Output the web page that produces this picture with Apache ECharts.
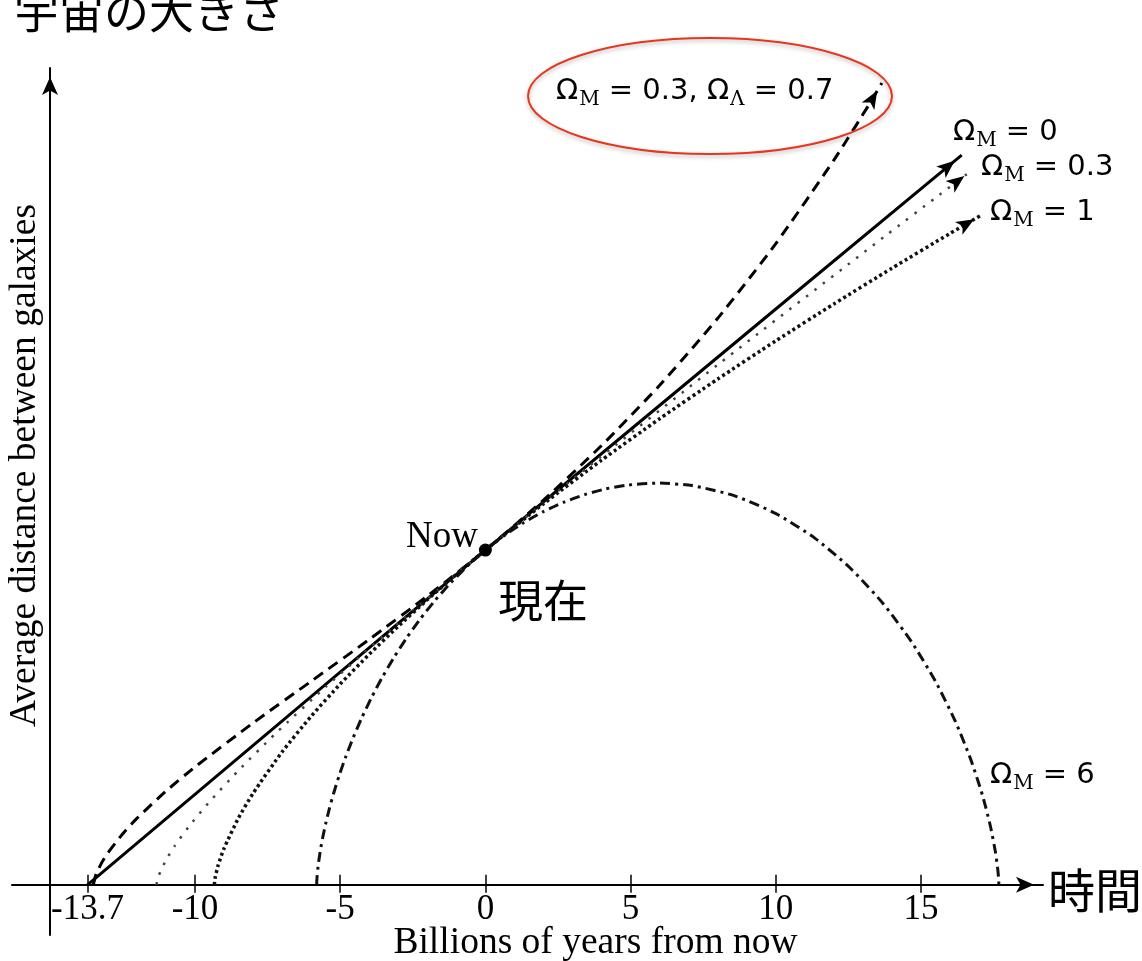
<!DOCTYPE html>
<html><head><meta charset="utf-8">
<script src="https://cdn.jsdelivr.net/npm/echarts@6/dist/echarts.min.js"></script>
<style>html,body{margin:0;padding:0;background:#fff}#c{width:1142px;height:961px}</style>
</head><body><div id="c"></div>
<script>
// tick labels on the time axis (billions of years from now)
const xTickValues = [-13.7, -10, -5, 0, 5, 10, 15];

// [time from now (Gyr), relative distance between galaxies]
const lambdaCDM = [[-13.5,0],[-13.4,0.0325],[-13.2,0.0677],[-13,0.0951],[-12.5,0.1511],[-12,0.1983],[-11,0.2797],[-10,0.3519],[-8,0.4833],[-6,0.6079],[-4,0.7329],[-2,0.8624],[0,1],[2,1.1491],[4,1.3122],[6,1.4922],[8,1.6922],[10,1.9153],[12,2.165],[13.2,2.3293],[13.65,2.395]];
const omega0 = [[-13.7,0],[-10,0.27],[-5,0.635],[0,1],[5,1.36],[10,1.72],[16.4,2.18]];
const omega03 = [[-11.323,0],[-11.307,0.0097],[-11.247,0.0274],[-11.007,0.0723],[-10.695,0.1164],[-10.213,0.1737],[-9.514,0.2466],[-8.541,0.338],[-7.228,0.4516],[-5.489,0.5919],[-3.23,0.7646],[0,1],[3.359,1.2362],[8.011,1.5541],[13.841,1.9431],[15.512,2.0531],[16.74,2.1336]];
const omega1 = [[-9.333,0],[-9.3,0.0234],[-9.2,0.0589],[-9,0.1084],[-8.5,0.1998],[-8,0.2733],[-7,0.3969],[-6,0.5034],[-5,0.5996],[-4,0.6886],[-3,0.7722],[-2,0.8515],[-1,0.9272],[0,1],[2,1.1382],[4,1.2684],[6,1.3923],[8,1.5109],[10,1.625],[12,1.7352],[14,1.842],[16,1.9458],[17.1,2.0017]];
const omega6 = [[-5.81,0],[-5.809,0.003],[-5.805,0.012],[-5.793,0.0268],[-5.77,0.0474],[-5.733,0.0735],[-5.678,0.1048],[-5.601,0.1411],[-5.501,0.182],[-5.374,0.227],[-5.217,0.2758],[-5.029,0.3278],[-4.808,0.3826],[-4.552,0.4395],[-4.26,0.498],[-3.931,0.5576],[-3.565,0.6175],[-3.162,0.6773],[-2.721,0.7363],[-2.245,0.794],[-1.732,0.8497],[-1.186,0.9029],[-0.608,0.9531],[0,1],[0.637,1.0424],[1.299,1.0807],[1.983,1.1141],[2.686,1.1424],[3.406,1.1653],[4.138,1.1826],[4.878,1.194],[5.935,1.2],[7.117,1.1925],[8.587,1.1619],[10.004,1.1089],[11.342,1.0356],[12.578,0.9449],[13.691,0.8405],[14.668,0.7265],[15.5,0.6074],[16.182,0.4881],[16.718,0.3732],[17.116,0.2674],[17.39,0.1748],[17.559,0.0992],[17.646,0.0436],[17.666,0.0239],[17.677,0.01],[17.68,0]];
const nowPoint = [[0, 1]];

const serif = '"Liberation Serif", "Times New Roman", serif';
const cjk = '"Noto Sans CJK JP", sans-serif';

function endArrow(data) {
  const n = data.length;
  return {
    silent: true,
    animation: false,
    symbol: ['none', 'arrow'],
    lineStyle: { width: 0, color: '#000', type: 'solid' },
    label: { show: false },
    emphasis: { disabled: true },
    data: [[
      { coord: data[n - 2], symbol: 'none' },
      { coord: data[n - 1], symbol: 'arrow', symbolSize: [11, 18], symbolOffset: [0, '50%'] }
    ]]
  };
}

const omegaRich = {
  o: { fontFamily: 'DejaVu Sans', fontSize: 29, lineHeight: 32, verticalAlign: 'top', color: '#222' },
  s: { fontFamily: 'DejaVu Serif', fontSize: 20, lineHeight: 22, padding: [13, 0, 0, 1], verticalAlign: 'top', color: '#222' },
  t: { fontFamily: 'DejaVu Sans', fontSize: 29, lineHeight: 32, verticalAlign: 'top', color: '#222' }
};
function omegaText(txt, x, y) {
  return { type: 'text', x: x, y: y, z: 50, silent: true,
    style: { text: txt, rich: omegaRich, align: 'left', textAlign: 'left', verticalAlign: 'top', textVerticalAlign: 'top' } };
}
function plainText(txt, x, y, font, align) {
  return { type: 'text', x: x, y: y, z: 50, silent: true,
    style: { text: txt, font: font, fill: '#000', align: align || 'left', textAlign: align || 'left', verticalAlign: 'middle', textVerticalAlign: 'middle' } };
}

const X_OFFSET = -50.2; // moves the time axis up to distance 0
const chart = echarts.init(document.getElementById('c'));
chart.setOption({
  backgroundColor: '#fff',
  animation: false,
  grid: { left: 12, right: 99, top: 68, bottom: 26, containLabel: false, outerBoundsMode: 'none' },
  xAxis: [{
    type: 'value', min: -16.3, max: 19.2, position: 'bottom', offset: X_OFFSET,
    name: 'Billions of years from now', nameLocation: 'middle', nameGap: 39, nameMoveOverlap: false,
    nameTextStyle: { fontFamily: serif, fontSize: 37.5, color: '#000', padding: [0, 0, 0, 136] },
    axisLine: { show: true, onZero: false, symbol: ['none', 'arrow'], symbolSize: [12, 18], symbolOffset: [0, -9], lineStyle: { color: '#000', width: 2 } },
    axisTick: { show: true, inside: false, length: 8, customValues: xTickValues, lineStyle: { color: '#000', width: 1.5 } },
    axisLabel: { show: true, customValues: xTickValues, margin: 8, fontFamily: serif, fontSize: 35, color: '#000', formatter: v => String(v) },
    splitLine: { show: false }
  }, {
    type: 'value', min: -16.3, max: 19.2, position: 'bottom', offset: X_OFFSET,
    axisLine: { show: false, onZero: false },
    axisTick: { show: true, inside: true, length: 10, customValues: xTickValues, lineStyle: { color: '#000', width: 1.5 } },
    axisLabel: { show: false },
    splitLine: { show: false }
  }],
  yAxis: {
    type: 'value', min: -0.15, max: 2.44, position: 'left', offset: -38,
    name: 'Average distance between galaxies', nameLocation: 'middle', nameGap: 6, nameMoveOverlap: false,
    nameTextStyle: { fontFamily: serif, fontSize: 37.5, color: '#000', padding: [0, 0, 0, 72] },
    axisLine: { show: true, onZero: false, symbol: ['none', 'arrow'], symbolSize: [12, 18], symbolOffset: [0, -9], lineStyle: { color: '#000', width: 2 } },
    axisTick: { show: false }, axisLabel: { show: false }, splitLine: { show: false }
  },
  series: [
    { name: 'ΩM = 0.3, ΩΛ = 0.7', type: 'line', data: lambdaCDM, symbol: 'none', z: 3, smooth: 0.2,
      lineStyle: { color: '#000', width: 3, type: [11, 7] }, markLine: endArrow(lambdaCDM) },
    { name: 'ΩM = 0', type: 'line', data: omega0, symbol: 'none', z: 3,
      lineStyle: { color: '#000', width: 3 }, markLine: endArrow(omega0) },
    { name: 'ΩM = 0.3', type: 'line', data: omega03, symbol: 'none', z: 3, smooth: 0.2,
      lineStyle: { color: '#444', width: 2.5, type: [2.5, 8] }, markLine: endArrow(omega03) },
    { name: 'ΩM = 1', type: 'line', data: omega1, symbol: 'none', z: 3, smooth: 0.2,
      lineStyle: { color: '#111', width: 3.5, type: [3, 3] }, markLine: endArrow(omega1) },
    { name: 'ΩM = 6', type: 'line', data: omega6, symbol: 'none', z: 3, smooth: 0.2,
      lineStyle: { color: '#111', width: 3, type: [10, 5, 3, 5] } },
    { name: 'Now', type: 'scatter', data: nowPoint, symbolSize: 13, z: 10,
      itemStyle: { color: '#000', opacity: 1 } }
  ],
  graphic: [
    { type: 'ellipse', z: 40, silent: true, shape: { cx: 710, cy: 96, rx: 182, ry: 58 },
      style: { fill: 'none', stroke: '#e8351e', lineWidth: 2, shadowBlur: 4, shadowColor: 'rgba(0,0,0,0.3)', shadowOffsetY: 2 } },
    omegaText('{o|Ω}{s|M}{t| = 0.3, Ω}{s|Λ}{t| = 0.7}', 556, 77),
    omegaText('{o|Ω}{s|M}{t| = 0}', 953, 118),
    omegaText('{o|Ω}{s|M}{t| = 0.3}', 981, 153),
    omegaText('{o|Ω}{s|M}{t| = 1}', 990, 198),
    omegaText('{o|Ω}{s|M}{t| = 6}', 990, 761),
    plainText('宇宙の大きさ', 14, 12, '45px ' + cjk),
    plainText('時間', 1048, 890, '47px ' + cjk),
    plainText('現在', 498, 601, '45px ' + cjk),
    plainText('Now', 478, 537, '37px ' + serif, 'right')
  ]
});
</script>
</body></html>
